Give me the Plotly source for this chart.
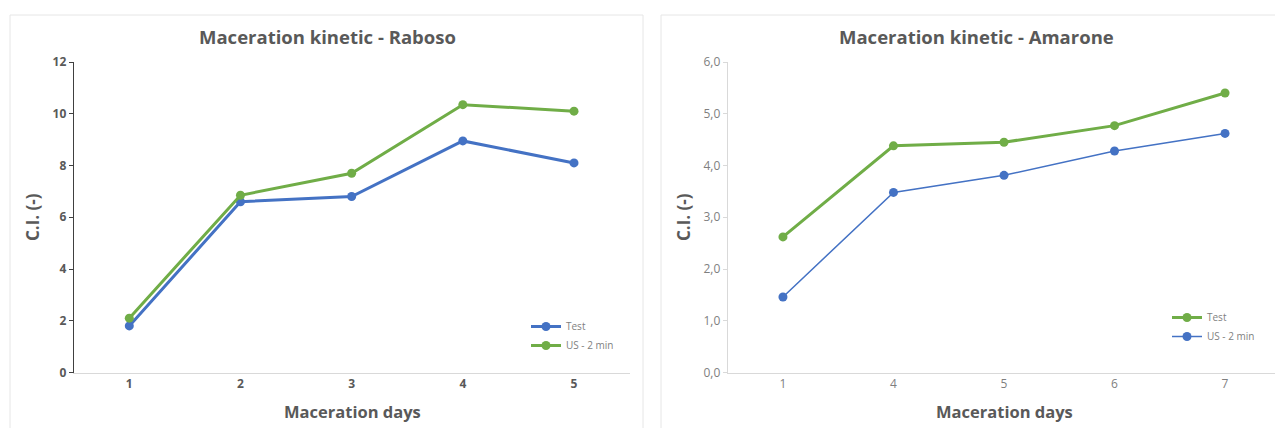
import plotly.graph_objects as go

# Data
raboso_days = ["1", "2", "3", "4", "5"]
raboso_test = [1.8, 6.6, 6.8, 8.95, 8.1]
raboso_us = [2.1, 6.85, 7.7, 10.35, 10.1]

amarone_days = ["1", "4", "5", "6", "7"]
amarone_test = [2.62, 4.38, 4.45, 4.77, 5.4]
amarone_us = [1.46, 3.48, 3.81, 4.28, 4.62]

BLUE = "#4472C4"
GREEN = "#70AD47"
W, H = 1283, 428
FONT = "Open Sans"
TXT = "#595959"
OFF = 8  # page body margin offset

def px(x):
    return (x - OFF) / W

def py(y):
    return 1 - (y - OFF) / H

fig = go.Figure()

fig.add_trace(go.Scatter(x=raboso_days, y=raboso_test, name="Test", mode="lines+markers",
                         line=dict(color=BLUE, width=3), marker=dict(size=9, color=BLUE),
                         xaxis="x", yaxis="y", legend="legend"))
fig.add_trace(go.Scatter(x=raboso_days, y=raboso_us, name="US - 2 min", mode="lines+markers",
                         line=dict(color=GREEN, width=3), marker=dict(size=9, color=GREEN),
                         xaxis="x", yaxis="y", legend="legend"))
fig.add_trace(go.Scatter(x=amarone_days, y=amarone_test, name="Test", mode="lines+markers",
                         line=dict(color=GREEN, width=3), marker=dict(size=9, color=GREEN),
                         xaxis="x2", yaxis="y2", legend="legend2"))
fig.add_trace(go.Scatter(x=amarone_days, y=amarone_us, name="US - 2 min", mode="lines+markers",
                         line=dict(color=BLUE, width=1.5), marker=dict(size=9, color=BLUE),
                         xaxis="x2", yaxis="y2", legend="legend2"))

axis_common = dict(showgrid=False, zeroline=False, showline=True, linewidth=1, automargin=False)

fig.update_layout(
    width=W, height=H,
    margin=dict(l=0, r=0, t=0, b=0, pad=0, autoexpand=False),
    paper_bgcolor="white", plot_bgcolor="white",
    separators=",.",
    font=dict(family=FONT, color=TXT),
    xaxis=dict(domain=[px(73.7), px(629.6)], anchor="y", type="category", range=[-0.5, 4.5],
               ticks="", linecolor="#d9d9d9",
               tickfont=dict(size=12, color=TXT, family=FONT, weight="bold"), **axis_common),
    yaxis=dict(domain=[py(372.5), py(62)], anchor="x", range=[0, 12], dtick=2, ticks="outside",
               ticklen=4, tickcolor="#404040", linecolor="#404040",
               tickfont=dict(size=12, color=TXT, family=FONT, weight="bold"), **axis_common),
    xaxis2=dict(domain=[px(727.7), px(1280.3)], anchor="y2", type="category", range=[-0.5, 4.5],
                ticks="", linecolor="#d9d9d9",
                tickfont=dict(size=12, color="#7f7f7f"), **axis_common),
    yaxis2=dict(domain=[py(372.5), py(62)], anchor="x2", range=[0, 6], dtick=1, tickformat=".1f",
                ticks="outside", ticklen=4, tickcolor="#d9d9d9", linecolor="#d9d9d9",
                tickfont=dict(size=12, color="#7f7f7f"), **axis_common),
    legend=dict(x=px(526), y=py(312), xanchor="left", yanchor="top", bgcolor="rgba(0,0,0,0)",
                font=dict(size=10, color="#7f7f7f"), tracegroupgap=0, itemwidth=30),
    legend2=dict(x=px(1167), y=py(303), xanchor="left", yanchor="top", bgcolor="rgba(0,0,0,0)",
                 font=dict(size=10, color="#7f7f7f"), tracegroupgap=0, itemwidth=30),
)

annotations = [
    dict(text="<b>Maceration kinetic - Raboso</b>", x=px(327), y=py(36), font=dict(size=18.5, color=TXT)),
    dict(text="<b>Maceration kinetic - Amarone</b>", x=px(976), y=py(36), font=dict(size=18.5, color=TXT)),
    dict(text="<b>Maceration days</b>", x=px(352), y=py(411), font=dict(size=16.5, color=TXT)),
    dict(text="<b>Maceration days</b>", x=px(1004), y=py(411), font=dict(size=16.5, color=TXT)),
    dict(text="<b>C.I. (-)</b>", x=px(32), y=py(217), textangle=-90, font=dict(size=17, color=TXT)),
    dict(text="<b>C.I. (-)</b>", x=px(683), y=py(217), textangle=-90, font=dict(size=17, color=TXT)),
]
for a in annotations:
    a.update(xref="paper", yref="paper", showarrow=False, xanchor="center", yanchor="middle")
fig.update_layout(annotations=annotations)

fig.update_layout(shapes=[
    dict(type="rect", xref="paper", yref="paper", x0=px(10), x1=px(643), y0=py(440), y1=py(15),
         line=dict(color="#e6e6e6", width=1)),
    dict(type="rect", xref="paper", yref="paper", x0=px(661), x1=px(1295), y0=py(440), y1=py(15),
         line=dict(color="#e6e6e6", width=1)),
])

fig.write_html("out.html")
